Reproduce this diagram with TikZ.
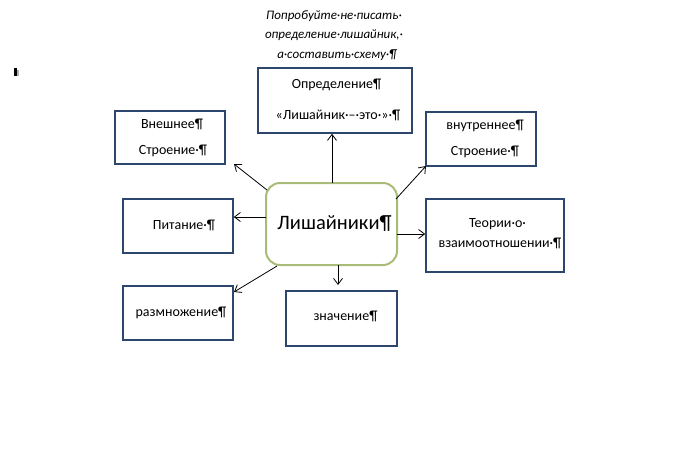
\documentclass[tikz,border=0pt]{standalone}
\usepackage{fontspec}
\setmainfont{Carlito}
\usetikzlibrary{arrows.meta}
\definecolor{boxblue}{RGB}{44,70,110}
\definecolor{centergreen}{RGB}{168,188,120}
\tikzset{
  boxnode/.style={draw=boxblue, line width=1.6pt, fill=white, inner sep=0pt,
    font=\fontsize{14}{26}\selectfont, align=center},
  centernode/.style={draw=centergreen, line width=2pt, rounded corners=14pt, fill=white,
    inner sep=0pt, font=\fontsize{20.5}{22}\selectfont},
  conn/.style={-{Straight Barb[length=6pt,width=9pt]}, line width=0.8pt, black},
  notenode/.style={font=\fontsize{13}{19.5}\selectfont\itshape, align=center, inner sep=0pt}
}
\begin{document}
\begin{tikzpicture}[x=1pt,y=-1pt]
\useasboundingbox (0,0) rectangle (676,472);
% stray mark
\fill[black] (14,68) rectangle (16.5,76) coordinate (markA);
\fill[gray!60] (16.5,70) rectangle (18.5,76) coordinate (markB);

\node[notenode] (note) at (334,35.5) {Попробуйте·не·писать·\\определение·лишайник,·\\\hspace{6pt}а·составить·схему·¶};

\node[boxnode, minimum width=154pt, minimum height=65pt] (def) at (335,100.5)
  {\raisebox{8pt}{\hspace{3pt}Определение¶}\\\raisebox{3pt}{\hspace{6pt}«Лишайник·–·это·»·¶}};
\node[boxnode, minimum width=110pt, minimum height=53pt] (ext) at (170,137.5)
  {\raisebox{1pt}{\hspace{4pt}Внешнее¶}\\\raisebox{1pt}{\hspace{6pt}Строение·¶}};
\node[boxnode, minimum width=110pt, minimum height=54pt] (pit) at (178,226)
  {\raisebox{3pt}{\hspace{12pt}Питание·¶}};
\node[boxnode, minimum width=110pt, minimum height=54pt] (int) at (481,139)
  {\raisebox{1pt}{\hspace{8pt}внутреннее¶}\\\raisebox{1pt}{\hspace{8pt}Строение·¶}};
\node[boxnode, minimum width=138pt, minimum height=73pt] (teo) at (495,235.5)
  {\raisebox{5pt}{\hspace{5pt}Теории·о·}\\[-6pt]\raisebox{5pt}{\hspace{10pt}взаимоотношении·¶}};
\node[boxnode, minimum width=110pt, minimum height=54pt] (raz) at (178,313)
  {\raisebox{3pt}{\hspace{6pt}размножение¶}};
\node[boxnode, minimum width=111pt, minimum height=55pt] (zna) at (341.5,318.5)
  {\raisebox{5pt}{\hspace{8pt}значение¶}};

\node[centernode, minimum width=131pt, minimum height=82pt] (lich) at (331.5,224)
  {\hspace{6pt}\raisebox{3pt}{Лишайники¶}};

\coordinate (c1) at (332,183);
\draw[conn] (c1) -- (def.south -| c1);
\coordinate (c2) at (267,190);
\coordinate (e2) at (234,164);
\draw[conn] (c2) -- (e2);
\coordinate (c3) at (266,217);
\draw[conn] (c3) -- (pit.east |- c3);
\coordinate (c4) at (396,199);
\coordinate (e4) at (426,166);
\draw[conn] (c4) -- (e4);
\coordinate (c5) at (397,234);
\draw[conn] (c5) -- (teo.west |- c5);
\coordinate (c6) at (277,266);
\coordinate (e6) at (234,292);
\draw[conn] (c6) -- (e6);
\coordinate (c7) at (338,265);
\coordinate (e7) at (338,285);
\draw[conn] (c7) -- (e7);
\end{tikzpicture}
\end{document}
